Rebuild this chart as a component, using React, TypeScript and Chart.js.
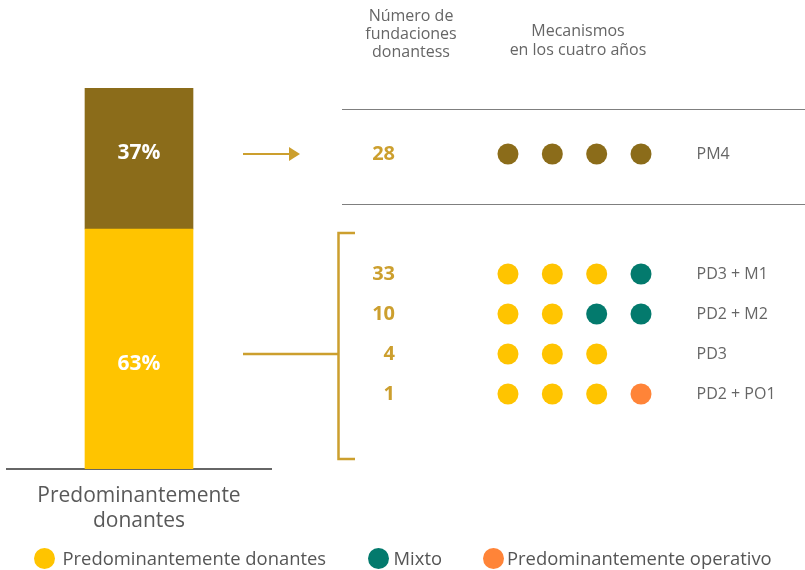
import React, { useEffect, useRef } from 'react';
import { Chart, registerables } from 'chart.js';

Chart.register(...registerables);

// ---- Data ----
const barCategories = [['Predominantemente', 'donantes']];
const barSeriesNames = ['Predominantemente donantes', 'Predominantemente mixtos'];
const barSeriesValues = [63, 37];
const barSeriesColors = ['#FFC400', '#8B6C1A'];

const rowLabels = ['PM4', '', '', 'PD3 + M1', 'PD2 + M2', 'PD3', 'PD2 + PO1'];
const rowCounts = ['28', '', '', '33', '10', '4', '1'];
const years = [1, 2, 3, 4];
const rowMechanisms = [
  ['PM', 'PM', 'PM', 'PM'],
  [],
  [],
  ['PD', 'PD', 'PD', 'M'],
  ['PD', 'PD', 'M', 'M'],
  ['PD', 'PD', 'PD'],
  ['PD', 'PD', 'PD', 'PO'],
];
const mechanismCodes = ['PM', 'PD', 'M', 'PO'];
const mechanismNames = ['Predominantemente mixto', 'Predominantemente donantes', 'Mixto', 'Predominantemente operativo'];
const mechanismColors = ['#8B6C1A', '#FFC400', '#037A6D', '#FF8438'];
const legendCodes = ['PD', 'M', 'PO'];
const headerCount = ['Número de', 'fundaciones', 'donantess'];
const headerMech = ['Mecanismos', 'en los cuatro años'];

const GOLD = '#CC9F2E';
const FONT = "'Open Sans', sans-serif";
const barLabelOffsets = [15, -5.5];
const legendTextGaps = [7.5, 4.5, 3.5];
const legendItemGaps = [42, 40.5, 0];

const barLabelPlugin = {
  id: 'barLabels',
  afterDatasetsDraw(chart: any) {
    const ctx = chart.ctx;
    ctx.save();
    ctx.fillStyle = '#FFFFFF';
    ctx.font = `bold 21px ${FONT}`;
    ctx.textAlign = 'center';
    ctx.textBaseline = 'middle';
    chart.data.datasets.forEach((ds: any, i: number) => {
      const meta = chart.getDatasetMeta(i);
      meta.data.forEach((el: any, j: number) => {
        const { x, y, base } = el.getProps(['x', 'y', 'base'], true);
        ctx.fillText(`${ds.data[j]}%`, x, (y + base) / 2 + barLabelOffsets[i]);
      });
    });
    ctx.restore();
  },
};

const decorPlugin = {
  id: 'decor',
  afterDraw(chart: any) {
    const ctx = chart.ctx;
    const ys = chart.scales.y;
    const rowTop = ys.getPixelForValue(0);
    const rowPD3 = ys.getPixelForValue(5);
    ctx.save();
    // headers
    ctx.fillStyle = '#666666';
    ctx.font = `16px ${FONT}`;
    ctx.textAlign = 'center';
    ctx.textBaseline = 'middle';
    headerCount.forEach((t, i) => ctx.fillText(t, 411, 16 + i * 18));
    headerMech.forEach((t, i) => ctx.fillText(t, 578, 31 + i * 19));
    // separators
    ctx.strokeStyle = '#7F7F7F';
    ctx.lineWidth = 1;
    [109.5, 204.5].forEach((yy) => {
      ctx.beginPath();
      ctx.moveTo(342, yy);
      ctx.lineTo(805, yy);
      ctx.stroke();
    });
    // arrow
    ctx.strokeStyle = GOLD;
    ctx.fillStyle = GOLD;
    ctx.lineWidth = 2;
    ctx.beginPath();
    ctx.moveTo(243, rowTop);
    ctx.lineTo(290, rowTop);
    ctx.stroke();
    ctx.beginPath();
    ctx.moveTo(289, rowTop - 7);
    ctx.lineTo(300, rowTop);
    ctx.lineTo(289, rowTop + 7);
    ctx.closePath();
    ctx.fill();
    // connector + bracket
    ctx.lineWidth = 2.5;
    ctx.beginPath();
    ctx.moveTo(243, rowPD3);
    ctx.lineTo(338.5, rowPD3);
    ctx.stroke();
    ctx.beginPath();
    ctx.moveTo(355, 233);
    ctx.lineTo(338.5, 233);
    ctx.lineTo(338.5, 459);
    ctx.lineTo(355, 459);
    ctx.stroke();
    ctx.restore();
  },
};

function BarChart() {
  const ref = useRef<HTMLCanvasElement>(null);
  useEffect(() => {
    const chart = new Chart(ref.current as HTMLCanvasElement, {
      type: 'bar',
      data: {
        labels: barCategories as any,
        datasets: barSeriesNames.map((n, i) => ({
          label: n,
          data: [barSeriesValues[i]],
          backgroundColor: barSeriesColors[i],
          borderWidth: 0,
          barThickness: 108,
        })),
      },
      options: {
        animation: false,
        responsive: false,
        layout: { padding: { left: 7, right: 9, top: 88, bottom: 37 } },
        plugins: { legend: { display: false }, tooltip: { enabled: false } },
        scales: {
          x: {
            stacked: true,
            grid: { display: false, drawTicks: false },
            border: { display: true, color: '#666666', width: 2 },
            ticks: { padding: 14.5, color: '#595959', font: { family: FONT, size: 21 } },
            afterFit: (s: any) => { s.height = 64; },
          },
          y: { stacked: true, display: false, min: 0, max: 100 },
        },
      } as any,
      plugins: [barLabelPlugin],
    });
    return () => chart.destroy();
  }, []);
  return <canvas ref={ref} width={280} height={570} style={{ position: 'absolute', left: 0, top: 0, width: 280, height: 570 }} />;
}

function DotChart() {
  const ref = useRef<HTMLCanvasElement>(null);
  useEffect(() => {
    const datasets = mechanismCodes.map((code, ci) => {
      const pts: any[] = [];
      rowMechanisms.forEach((mechs, r) => {
        mechs.forEach((m, i) => {
          if (m === code) pts.push({ x: years[i], y: rowLabels[r] });
        });
      });
      return {
        label: mechanismNames[ci],
        data: pts,
        backgroundColor: mechanismColors[ci],
        borderWidth: 0,
        pointRadius: 10.5,
        pointHoverRadius: 10.5,
        clip: false,
      };
    });
    const chart = new Chart(ref.current as HTMLCanvasElement, {
      type: 'scatter',
      data: { datasets },
      options: {
        animation: false,
        responsive: false,
        layout: { padding: { left: 345.8, right: 21.8, top: 154, bottom: 176 } },
        plugins: { legend: { display: false }, tooltip: { enabled: false } },
        scales: {
          x: { type: 'linear', min: 0.5, max: 4.5, display: false },
          y: {
            type: 'category',
            labels: rowLabels,
            position: 'right',
            offset: false,
            grid: { display: false, drawTicks: false },
            border: { display: false },
            ticks: { autoSkip: false, padding: 33.3, color: '#666666', font: { family: FONT, size: 16 } },
            afterFit: (s: any) => { s.width = 120; },
          },
          yCount: {
            type: 'category',
            axis: 'y',
            labels: rowCounts,
            position: 'left',
            offset: false,
            grid: { display: false, drawTicks: false },
            border: { display: false },
            ticks: { autoSkip: false, padding: 90.8, color: GOLD, font: { family: FONT, size: 20, weight: 'bold' } },
            afterFit: (s: any) => { s.width = 140; },
          },
        },
      } as any,
      plugins: [decorPlugin],
    });
    return () => chart.destroy();
  }, []);
  return <canvas ref={ref} width={805} height={570} style={{ position: 'absolute', left: 0, top: 0, width: 805, height: 570 }} />;
}

function Legend() {
  return (
    <div
      style={{
        position: 'absolute',
        left: 34,
        top: 547,
        display: 'flex',
        alignItems: 'center',
        fontFamily: FONT,
        fontSize: 18.4,
        lineHeight: '22px',
        color: '#555555',
        whiteSpace: 'nowrap',
      }}
    >
      {legendCodes.map((code, k) => {
        const idx = mechanismCodes.indexOf(code);
        return (
          <div key={code} style={{ display: 'flex', alignItems: 'center', marginRight: legendItemGaps[k] }}>
            <span
              style={{
                display: 'inline-block',
                width: 21,
                height: 21,
                borderRadius: '50%',
                background: mechanismColors[idx],
                marginRight: legendTextGaps[k],
              }}
            />
            <span>{mechanismNames[idx]}</span>
          </div>
        );
      })}
    </div>
  );
}

export default function App() {
  return (
    <div style={{ position: 'fixed', left: 0, top: 0, width: 805, height: 570, background: '#FFFFFF', overflow: 'hidden' }}>
      <DotChart />
      <BarChart />
      <Legend />
    </div>
  );
}
